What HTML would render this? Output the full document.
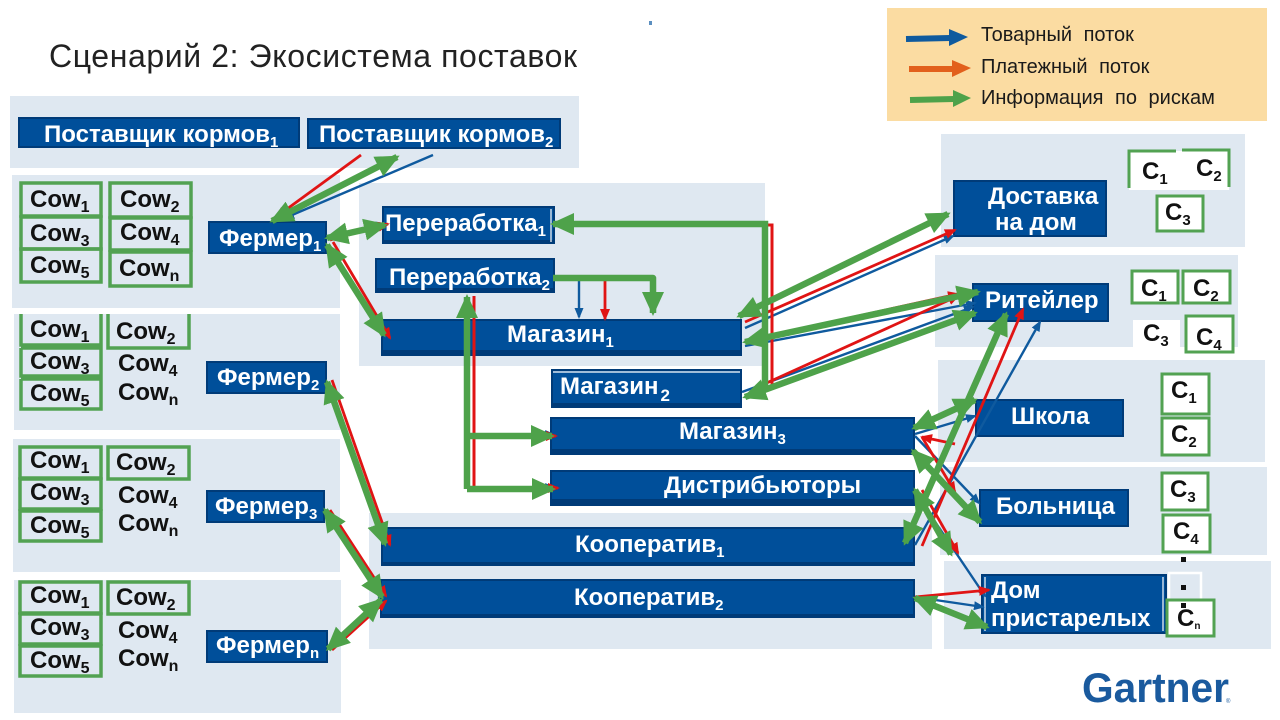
<!DOCTYPE html>
<html><head><meta charset="utf-8"><style>
html,body{margin:0;padding:0;background:#fff}
svg{display:block}
text{font-family:"Liberation Sans",sans-serif}
.p{fill:#dfe8f1}
.n{fill:#004f9a;stroke:#003b78;stroke-width:2}
.t{fill:#fff;font-weight:bold;font-size:24px}
.t tspan{font-size:15px}
.c{fill:#111;font-weight:bold;font-size:24px}
.c tspan{font-size:16px}
.k{fill:#111;font-weight:bold;font-size:24px}
.k tspan{font-size:15px}
.b{fill:none;stroke:#52a252;stroke-width:3.5}
.w{fill:#fff;stroke:#52a252;stroke-width:3}
.g{stroke:#4ea24a;stroke-width:6.5;fill:none;marker-end:url(#mg)}
.gb{stroke:#4ea24a;stroke-width:6.5;fill:none;marker-end:url(#mg);marker-start:url(#mg)}
.r{stroke:#e01414;stroke-width:2.8;fill:none;marker-end:url(#mr)}
.u{stroke:#0f5a9e;stroke-width:2.4;fill:none;marker-end:url(#mu)}
</style></head><body>
<svg width="1280" height="720" viewBox="0 0 1280 720" xmlns="http://www.w3.org/2000/svg">
<defs>
<marker id="mg" markerUnits="userSpaceOnUse" markerWidth="24" markerHeight="23" refX="21" refY="11" viewBox="0 0 24 22" orient="auto-start-reverse"><path d="M0 0L24 11L0 22Z" fill="#4ea24a"/></marker>
<marker id="mr" markerUnits="userSpaceOnUse" markerWidth="12" markerHeight="11" refX="10" refY="5" viewBox="0 0 12 10" orient="auto-start-reverse"><path d="M0 0L12 5L0 10Z" fill="#e01414"/></marker>
<marker id="mu" markerUnits="userSpaceOnUse" markerWidth="11" markerHeight="10" refX="9" refY="4.5" viewBox="0 0 11 9" orient="auto-start-reverse"><path d="M0 0L11 4.5L0 9Z" fill="#0f5a9e"/></marker>
</defs>

<rect class="p" x="10" y="96" width="569" height="72"/>
<rect class="p" x="12" y="175" width="328" height="133"/>
<rect class="p" x="14" y="314" width="326" height="116"/>
<rect class="p" x="13" y="439" width="327" height="133"/>
<rect class="p" x="14" y="580" width="327" height="133"/>
<rect class="p" x="359" y="183" width="406" height="183"/>
<rect class="p" x="369" y="513" width="563" height="136"/>
<rect class="p" x="941" y="134" width="304" height="113"/>
<rect class="p" x="935" y="255" width="303" height="92"/>
<rect class="p" x="938" y="360" width="327" height="102"/>
<rect class="p" x="940" y="467" width="327" height="88"/>
<rect class="p" x="944" y="561" width="327" height="88"/>

<text x="49" y="67" font-size="32" fill="#222" textLength="528" lengthAdjust="spacing">Сценарий 2: Экосистема поставок</text>
<rect x="649" y="21" width="3" height="4" fill="#5b8fc0"/>

<rect x="887" y="8" width="380" height="113" fill="#fbdca2"/>
<text x="981" y="41" font-size="20" fill="#1a1a1a" word-spacing="6">Товарный поток</text>
<text x="981" y="73" font-size="20" fill="#1a1a1a" word-spacing="6">Платежный поток</text>
<text x="981" y="104" font-size="20" fill="#1a1a1a" word-spacing="6">Информация по рискам</text>
<path d="M906 39L950 38" stroke="#0f5a9e" stroke-width="6" fill="none"/><path d="M949 29L968 37L949 46Z" fill="#0f5a9e"/>
<path d="M909 69L953 69" stroke="#e2601c" stroke-width="6" fill="none"/><path d="M952 60L971 68L952 77Z" fill="#e2601c"/>
<path d="M910 100L954 99" stroke="#4ea24a" stroke-width="6" fill="none"/><path d="M953 90L971 98L953 107Z" fill="#4ea24a"/>

<!-- cows -->
<g class="b">
<rect x="21" y="183" width="80" height="33"/><rect x="21" y="217" width="80" height="32"/><rect x="21" y="249" width="80" height="33"/>
<rect x="110" y="183" width="81" height="34"/><rect x="110" y="218" width="81" height="32"/><rect x="110" y="252" width="81" height="34"/>
<path d="M21 314V345H101V314M21 348H101V376H21V348M21 379H101V409H21V379M108 314V348H189V314"/>
<rect x="20" y="447" width="81" height="31"/><rect x="20" y="479" width="81" height="30"/><rect x="20" y="511" width="81" height="30"/>
<rect x="108" y="447" width="81" height="32"/>
<rect x="20" y="582" width="81" height="31"/><rect x="20" y="614" width="81" height="30"/><rect x="20" y="646" width="81" height="30"/>
<rect x="108" y="582" width="81" height="32"/>
</g>
<g class="c" transform="translate(0,1)">
<text x="30" y="206">Cow<tspan dy="5">1</tspan></text>
<text x="120" y="206">Cow<tspan dy="5">2</tspan></text>
<text x="30" y="240">Cow<tspan dy="5">3</tspan></text>
<text x="120" y="239">Cow<tspan dy="5">4</tspan></text>
<text x="30" y="272">Cow<tspan dy="5">5</tspan></text>
<text x="119" y="275">Cow<tspan dy="5">n</tspan></text>

<text x="30" y="336">Cow<tspan dy="5">1</tspan></text>
<text x="116" y="338">Cow<tspan dy="5">2</tspan></text>
<text x="30" y="368">Cow<tspan dy="5">3</tspan></text>
<text x="118" y="370">Cow<tspan dy="5">4</tspan></text>
<text x="30" y="400">Cow<tspan dy="5">5</tspan></text>
<text x="118" y="399">Cow<tspan dy="5">n</tspan></text>

<text x="30" y="467">Cow<tspan dy="5">1</tspan></text>
<text x="116" y="469">Cow<tspan dy="5">2</tspan></text>
<text x="30" y="499">Cow<tspan dy="5">3</tspan></text>
<text x="118" y="502">Cow<tspan dy="5">4</tspan></text>
<text x="30" y="532">Cow<tspan dy="5">5</tspan></text>
<text x="118" y="530">Cow<tspan dy="5">n</tspan></text>

<text x="30" y="602">Cow<tspan dy="5">1</tspan></text>
<text x="116" y="604">Cow<tspan dy="5">2</tspan></text>
<text x="30" y="634">Cow<tspan dy="5">3</tspan></text>
<text x="118" y="637">Cow<tspan dy="5">4</tspan></text>
<text x="30" y="667">Cow<tspan dy="5">5</tspan></text>
<text x="118" y="665">Cow<tspan dy="5">n</tspan></text>
</g>

<!-- nodes -->
<rect class="n" x="19" y="118" width="280" height="29"/>
<rect class="n" x="308" y="119" width="252" height="29"/>
<rect class="n" x="209" y="222" width="117" height="31"/>
<rect class="n" x="207" y="362" width="119" height="31"/>
<rect class="n" x="207" y="491" width="117" height="31"/>
<rect class="n" x="207" y="631" width="120" height="31"/>
<rect class="n" x="383" y="207" width="171" height="36"/>
<rect class="n" x="376" y="259" width="178" height="33"/>
<rect class="n" x="382" y="320" width="359" height="35"/>
<rect class="n" x="552" y="370" width="189" height="37"/>
<rect class="n" x="551" y="418" width="363" height="36"/>
<rect class="n" x="551" y="471" width="363" height="34"/>
<rect class="n" x="382" y="528" width="532" height="37"/>
<rect class="n" x="381" y="580" width="533" height="37"/>
<rect class="n" x="954" y="181" width="152" height="55"/>
<rect class="n" x="973" y="284" width="135" height="37"/>
<rect class="n" x="976" y="400" width="147" height="36"/>
<rect class="n" x="980" y="490" width="148" height="36"/>
<rect class="n" x="982" y="575" width="184" height="58"/>
<g fill="#003b78">
<rect x="382" y="350" width="359" height="6"/>
<rect x="552" y="403" width="189" height="5"/>
<rect x="551" y="449" width="363" height="6"/>
<rect x="551" y="499" width="363" height="7"/>
<rect x="376" y="288" width="178" height="5"/>
<rect x="383" y="240" width="171" height="4"/>
<rect x="382" y="562" width="532" height="4"/>
<rect x="381" y="614" width="533" height="4"/>
</g>
<path d="M551 209V242M985 577V631M1163 577V631" stroke="#fff" stroke-width="1.2"/>
<path d="M553 372H740" stroke="#fff" stroke-width="1.2"/>

<g class="t">
<text x="44" y="142">Поставщик кормов<tspan dy="5">1</tspan></text>
<text x="319" y="142">Поставщик кормов<tspan dy="5">2</tspan></text>
<text x="219" y="246">Фермер<tspan dy="5">1</tspan></text>
<text x="217" y="385">Фермер<tspan dy="5">2</tspan></text>
<text x="215" y="514">Фермер<tspan dy="5">3</tspan></text>
<text x="216" y="653">Фермер<tspan dy="5">n</tspan></text>
<text x="385" y="231">Переработка<tspan dy="5">1</tspan></text>
<text x="389" y="285">Переработка<tspan dy="5">2</tspan></text>
<text x="507" y="342">Магазин<tspan dy="5">1</tspan></text>
<text x="560" y="394">Магазин<tspan dy="7" dx="2" style="font-size:17px">2</tspan></text>
<text x="679" y="439">Магазин<tspan dy="5">3</tspan></text>
<text x="664" y="493">Дистрибьюторы</text>
<text x="575" y="552">Кооператив<tspan dy="5">1</tspan></text>
<text x="574" y="605">Кооператив<tspan dy="5">2</tspan></text>
<text x="988" y="204">Доставка</text>
<text x="995" y="230">на дом</text>
<text x="985" y="308">Ритейлер</text>
<text x="1011" y="424">Школа</text>
<text x="996" y="514">Больница</text>
<text x="991" y="598">Дом</text>
<text x="991" y="626">пристарелых</text>
</g>

<!-- C boxes -->
<rect x="1129" y="151" width="100" height="39" fill="#fff"/>
<path d="M1129 188V151H1176M1182 150H1229V187" fill="none" stroke="#52a252" stroke-width="3"/>
<rect class="w" x="1157" y="196" width="46" height="35"/>
<rect class="w" x="1132" y="271" width="46" height="32"/>
<rect class="w" x="1183" y="271" width="47" height="32"/>
<rect x="1133" y="320" width="47" height="35" fill="#fff"/>
<rect class="w" x="1186" y="316" width="47" height="36"/>
<rect class="w" x="1162" y="374" width="47" height="40"/>
<rect class="w" x="1162" y="418" width="47" height="37"/>
<rect class="w" x="1162" y="473" width="46" height="37"/>
<rect class="w" x="1163" y="515" width="47" height="37"/>
<rect x="1169" y="573" width="32" height="32" fill="#dfe8f1" stroke="#fff" stroke-width="2.5"/>
<rect class="w" x="1167" y="600" width="47" height="36"/>
<rect x="1181" y="557" width="5" height="5" fill="#111"/>
<rect x="1181" y="585" width="5" height="5" fill="#111"/>
<rect x="1181" y="603" width="5" height="5" fill="#111"/>
<g class="k">
<text x="1142" y="179">C<tspan dy="5">1</tspan></text>
<text x="1196" y="176">C<tspan dy="5">2</tspan></text>
<text x="1165" y="220">C<tspan dy="5">3</tspan></text>
<text x="1141" y="296">C<tspan dy="5">1</tspan></text>
<text x="1193" y="296">C<tspan dy="5">2</tspan></text>
<text x="1143" y="341">C<tspan dy="5">3</tspan></text>
<text x="1196" y="345">C<tspan dy="5">4</tspan></text>
<text x="1171" y="398">C<tspan dy="5">1</tspan></text>
<text x="1171" y="442">C<tspan dy="5">2</tspan></text>
<text x="1170" y="497">C<tspan dy="5">3</tspan></text>
<text x="1173" y="539">C<tspan dy="5">4</tspan></text>
<text x="1177" y="626">C<tspan dy="3" style="font-size:10px">n</tspan></text>
</g>

<!-- thin blue -->
<path class="u" d="M433 155L285 218"/>
<path class="u" d="M330 236L385 224"/>
<path class="u" d="M745 328L953 236"/>
<path class="u" d="M745 346L975 303"/>
<path class="u" d="M742 392L973 307"/>
<path class="u" d="M579 281V317"/>
<path class="u" d="M915 434L975 416"/>
<path class="u" d="M915 436L979 503"/>
<path class="u" d="M915 492L985 596"/>
<path class="u" d="M915 545L1040 322"/>
<path class="u" d="M915 597L983 607"/>
<path d="M555 224H765" stroke="#0f5a9e" stroke-width="2" fill="none"/>
<path d="M466 298V304M545 431L552 434M545 484L552 487M378 598L386 596" stroke="#0f5a9e" stroke-width="2" fill="none"/>

<!-- thin red -->
<path class="r" d="M361 155L276 217"/>
<path class="r" d="M330 240L388 224"/>
<path class="r" d="M333 242L390 338"/>
<path class="r" d="M745 322L955 230"/>
<path class="r" d="M745 341L958 294"/>
<path class="r" d="M760 386L958 296"/>
<path class="r" d="M605 281V319"/>
<path d="M764 225H772V385" stroke="#e01414" stroke-width="3" fill="none"/>
<path d="M474 296V487" stroke="#e01414" stroke-width="3" fill="none"/>
<path class="r" d="M530 436H556"/>
<path class="r" d="M530 488H558"/>
<path class="r" d="M332 380L390 545"/>
<path class="r" d="M330 510L386 596"/>
<path class="r" d="M332 650L386 601"/>
<path class="r" d="M955 444L922 437"/>
<path class="r" d="M922 437L955 492"/>
<path class="r" d="M922 490L958 553"/>
<path class="r" d="M922 546L1023 309"/>
<path class="r" d="M915 597L989 590"/>

<!-- thick green -->
<path class="gb" d="M397 157L272 221"/>
<path class="gb" d="M327 238L385 225"/>
<path class="gb" d="M327 245L384 335"/>
<path class="gb" d="M327 382L385 544"/>
<path class="gb" d="M325 510L382 597"/>
<path class="gb" d="M328 649L381 600"/>
<path class="g" d="M765 387V224H553"/>
<path class="g" d="M553 278H653V313" stroke-linejoin="round"/>
<path class="g" d="M467 489V297"/>
<path class="g" d="M467 436H552"/>
<path class="g" d="M467 489H553"/>
<path class="gb" d="M739 316L948 214"/>
<path class="gb" d="M745 342L978 292"/>
<path class="gb" d="M745 397L975 313"/>
<path class="gb" d="M914 428L975 400"/>
<path class="gb" d="M913 451L980 522"/>
<path class="gb" d="M915 490L951 554"/>
<path class="gb" d="M905 543L1006 314"/>
<path class="gb" d="M915 598L987 627"/>

<text x="1082" y="702" font-size="42" font-weight="bold" fill="#1a5a9e" textLength="147" lengthAdjust="spacingAndGlyphs">Gartner</text>
<text x="1226" y="703" font-size="6" fill="#1a5a9e">®</text>
</svg>
</body></html>
